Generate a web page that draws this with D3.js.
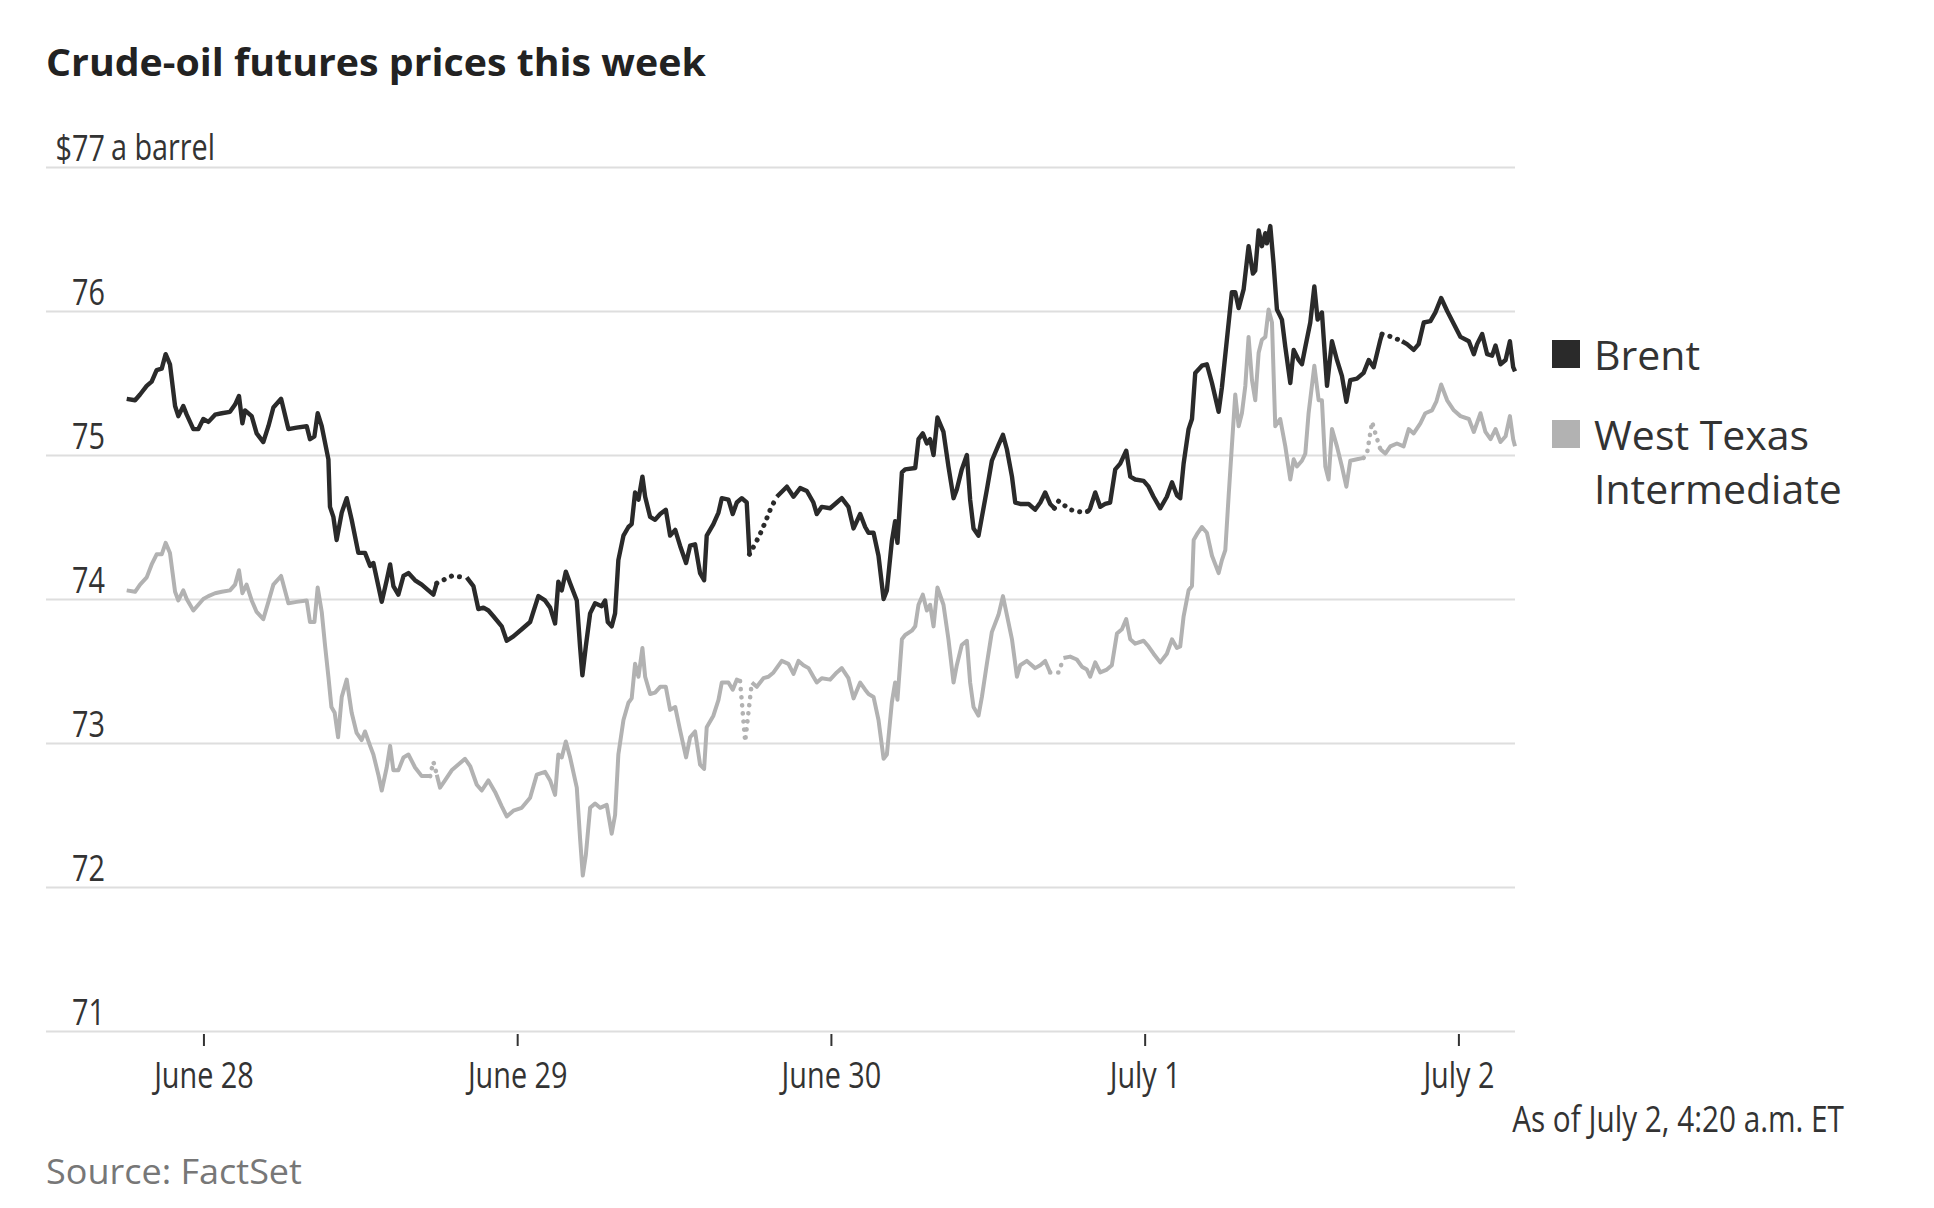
<!DOCTYPE html>
<html><head><meta charset="utf-8">
<script src="https://cdn.jsdelivr.net/npm/d3@7"></script>
<style>body{margin:0;background:#fff} svg{display:block}</style>
</head><body>
<svg id="c" width="1934" height="1208"></svg>
<script>
// ---- DATA ----
// time in hours after June 27, 2021, 6:00 p.m. ET; value in $ a barrel
const startTime = new Date(2021, 5, 27, 18, 0);
const endHours = 106.33; // July 2, 4:20 a.m. ET

const brent = [
[0.13,75.39],[0.77,75.38],[1.15,75.42],[1.66,75.48],[2.04,75.51],[2.42,75.59],[2.81,75.60],[3.11,75.70],[3.44,75.63],[3.83,75.34],[4.08,75.27],[4.46,75.34],[4.72,75.28],[5.23,75.18],[5.61,75.18],[5.99,75.25],[6.38,75.23],[6.89,75.28],[7.40,75.29],[8.03,75.30],[8.42,75.35],[8.72,75.41],[8.98,75.22],[9.18,75.31],[9.69,75.27],[10.07,75.15],[10.58,75.09],[10.97,75.20],[11.35,75.33],[11.94,75.39],[12.50,75.18],[13.13,75.19],[13.90,75.20],[14.15,75.11],[14.49,75.13],[14.74,75.29],[15.05,75.20],[15.56,74.97],[15.68,74.64],[15.94,74.57],[16.19,74.41],[16.58,74.60],[16.96,74.70],[17.34,74.55],[17.85,74.32],[18.36,74.32],[18.75,74.23],[19.00,74.25],[19.38,74.09],[19.64,73.98],[20.02,74.13],[20.28,74.24],[20.53,74.09],[20.91,74.03],[21.30,74.16],[21.68,74.18],[22.19,74.13],[22.70,74.10],[23.21,74.06],[23.59,74.03],[23.85,74.11],
[25.00,74.16],
[26.14,74.15],[26.65,74.09],[27.03,73.93],[27.42,73.94],[27.80,73.92],[28.18,73.88],[28.82,73.81],[29.20,73.71],[29.71,73.74],[30.35,73.79],[30.99,73.84],[31.62,74.02],[32.13,73.99],[32.52,73.94],[32.90,73.83],[33.15,74.12],[33.41,74.06],[33.72,74.19],[34.05,74.11],[34.56,73.99],[34.81,73.67],[34.99,73.47],[35.25,73.67],[35.58,73.90],[35.96,73.97],[36.47,73.95],[36.73,73.99],[36.93,73.84],[37.23,73.81],[37.49,73.90],[37.74,74.27],[38.13,74.44],[38.51,74.50],[38.76,74.52],[39.02,74.74],[39.28,74.69],[39.58,74.85],[39.79,74.71],[40.17,74.57],[40.55,74.55],[40.94,74.59],[41.37,74.62],[41.70,74.44],[42.09,74.48],[42.46,74.37],[42.92,74.25],[43.23,74.37],[43.61,74.38],[43.99,74.18],[44.30,74.13],[44.50,74.44],[45.01,74.52],[45.40,74.60],[45.65,74.70],[46.16,74.69],[46.49,74.59],[46.80,74.67],[47.18,74.70],[47.56,74.67],[47.77,74.31],
[48.53,74.44],[48.96,74.53],[49.40,74.63],
[49.86,74.71],[50.63,74.78],[51.14,74.71],[51.65,74.77],[52.16,74.75],[52.66,74.67],[52.92,74.59],[53.30,74.64],[53.94,74.63],[54.45,74.67],[54.83,74.70],[55.34,74.64],[55.73,74.49],[56.24,74.59],[56.62,74.50],[56.88,74.46],[57.26,74.46],[57.64,74.30],[58.03,74.00],[58.28,74.06],[58.66,74.40],[58.91,74.54],[59.09,74.39],[59.43,74.88],[59.68,74.90],[60.45,74.91],[60.70,75.11],[61.03,75.15],[61.34,75.08],[61.59,75.11],[61.85,75.00],[62.15,75.26],[62.61,75.16],[62.99,74.92],[63.38,74.70],[63.63,74.76],[64.01,74.90],[64.40,75.00],[64.65,74.69],[64.91,74.49],[65.29,74.44],[65.55,74.57],[65.93,74.76],[66.31,74.96],[66.82,75.07],[67.16,75.14],[67.46,75.04],[67.85,74.85],[68.10,74.67],[68.48,74.66],[69.12,74.66],[69.62,74.62],[70.02,74.67],[70.39,74.74],[70.77,74.66],[71.10,74.63],
[71.42,74.68],[72.30,74.62],[73.32,74.60],
[73.70,74.61],[73.83,74.63],[74.22,74.74],[74.60,74.64],[74.98,74.66],[75.36,74.67],[75.75,74.90],[76.13,74.94],[76.59,75.03],[76.90,74.85],[77.28,74.83],[77.92,74.82],[78.30,74.78],[78.68,74.71],[79.19,74.63],[79.70,74.71],[80.09,74.81],[80.47,74.72],[80.72,74.70],[80.98,74.94],[81.36,75.18],[81.62,75.25],[81.87,75.57],[82.38,75.62],[82.76,75.63],[83.15,75.50],[83.66,75.30],[83.91,75.47],[84.29,75.80],[84.67,76.13],[84.93,76.13],[85.19,76.02],[85.57,76.15],[85.95,76.45],[86.28,76.26],[86.46,76.28],[86.72,76.56],[86.97,76.45],[87.23,76.54],[87.35,76.47],[87.61,76.59],[87.86,76.33],[88.12,76.01],[88.50,75.94],[88.76,75.75],[89.14,75.50],[89.40,75.73],[89.78,75.66],[90.03,75.63],[90.29,75.75],[90.67,75.92],[90.98,76.17],[91.23,75.94],[91.56,75.99],[91.95,75.48],[92.33,75.79],[92.71,75.66],[93.09,75.55],[93.43,75.37],[93.73,75.52],[94.24,75.53],[94.75,75.57],[95.14,75.66],[95.52,75.61],[96.03,75.80],[96.16,75.84],
[96.92,75.82],
[97.69,75.79],[98.07,75.77],[98.58,75.73],[98.96,75.77],[99.35,75.92],[99.86,75.93],[100.24,75.99],[100.68,76.09],[101.14,76.00],[101.65,75.91],[102.16,75.82],[102.80,75.79],[103.18,75.70],[103.43,75.77],[103.82,75.84],[104.20,75.70],[104.58,75.69],[104.84,75.76],[105.22,75.63],[105.61,75.66],[105.94,75.79],[106.19,75.61],[106.33,75.58]
];

const wti = [
[0.13,74.06],[0.77,74.05],[1.15,74.10],[1.66,74.15],[2.04,74.24],[2.42,74.31],[2.81,74.31],[3.11,74.39],[3.44,74.32],[3.83,74.05],[4.08,73.99],[4.46,74.06],[4.72,74.00],[5.23,73.92],[5.61,73.96],[5.99,74.00],[6.38,74.02],[6.89,74.04],[7.40,74.05],[8.03,74.06],[8.42,74.10],[8.72,74.20],[8.98,74.04],[9.30,74.10],[9.69,73.99],[10.07,73.91],[10.58,73.86],[10.97,73.98],[11.35,74.10],[11.94,74.16],[12.50,73.97],[13.13,73.98],[13.90,73.99],[14.15,73.84],[14.49,73.84],[14.74,74.08],[15.05,73.91],[15.30,73.68],[15.56,73.46],[15.79,73.25],[16.04,73.21],[16.30,73.04],[16.58,73.32],[16.96,73.44],[17.34,73.21],[17.72,73.07],[18.10,73.02],[18.36,73.08],[18.75,72.98],[19.00,72.92],[19.38,72.78],[19.64,72.67],[20.02,72.83],[20.28,72.98],[20.53,72.81],[20.91,72.81],[21.30,72.90],[21.68,72.92],[22.19,72.83],[22.70,72.77],[23.34,72.77],
[23.59,72.87],
[23.85,72.78],[24.10,72.69],[24.48,72.74],[24.99,72.81],[25.50,72.85],[26.01,72.89],[26.40,72.84],[26.91,72.71],[27.29,72.67],[27.80,72.74],[28.31,72.66],[28.82,72.56],[29.20,72.49],[29.71,72.53],[30.35,72.55],[30.99,72.62],[31.50,72.78],[32.13,72.80],[32.52,72.74],[32.90,72.64],[33.15,72.92],[33.41,72.90],[33.72,73.01],[34.05,72.90],[34.56,72.69],[34.81,72.34],[35.02,72.08],[35.25,72.22],[35.58,72.55],[35.96,72.58],
[36.34,72.55],[36.85,72.57],[37.23,72.37],[37.49,72.50],[37.74,72.92],[38.13,73.16],[38.51,73.28],[38.76,73.31],[39.02,73.55],[39.28,73.46],[39.58,73.66],[39.79,73.46],[40.17,73.34],[40.55,73.35],[40.94,73.39],[41.37,73.39],[41.70,73.23],[42.09,73.25],[42.46,73.09],[42.92,72.90],[43.23,73.04],[43.61,73.08],[43.99,72.85],[44.30,72.82],[44.50,73.11],[45.01,73.19],[45.40,73.30],[45.65,73.42],[46.16,73.42],[46.49,73.37],[46.80,73.44],[47.05,73.43],
[47.44,73.01],
[47.95,73.42],[48.33,73.39],[48.84,73.45],[49.22,73.46],[49.61,73.49],[50.24,73.57],[50.75,73.55],[51.14,73.48],[51.52,73.57],[51.90,73.54],[52.29,73.52],[52.66,73.46],[52.92,73.42],[53.30,73.45],[53.94,73.44],[54.45,73.49],[54.83,73.52],[55.34,73.45],[55.73,73.31],[56.24,73.42],[56.62,73.37],[56.88,73.34],[57.26,73.32],[57.64,73.16],[58.03,72.89],[58.28,72.92],[58.66,73.28],[58.91,73.42],[59.09,73.30],[59.43,73.72],[59.68,73.75],[60.19,73.78],[60.45,73.81],[60.70,73.96],[61.03,74.03],[61.34,73.92],[61.59,73.96],[61.85,73.81],[62.15,74.08],[62.61,73.96],[62.99,73.72],[63.38,73.42],[63.63,73.54],[64.01,73.68],[64.40,73.71],[64.65,73.42],[64.91,73.25],[65.29,73.19],[65.55,73.32],[65.93,73.55],[66.31,73.77],[66.82,73.89],[67.16,74.02],[67.46,73.89],[67.85,73.72],[68.23,73.46],
[68.48,73.54],[68.99,73.57],[69.62,73.52],[70.01,73.54],[70.39,73.57],[70.77,73.49],
[71.42,73.49],
[71.79,73.59],[72.30,73.60],[72.81,73.58],[73.20,73.53],[73.58,73.51],[73.83,73.46],[74.22,73.56],[74.60,73.49],[75.11,73.51],[75.49,73.54],[75.88,73.76],[76.26,73.79],[76.59,73.86],[76.90,73.72],[77.28,73.69],[77.92,73.71],[78.30,73.67],[78.68,73.62],[79.19,73.56],[79.70,73.62],[80.09,73.72],[80.47,73.66],[80.72,73.67],[80.98,73.88],[81.36,74.06],[81.62,74.09],[81.75,74.41],[82.00,74.45],[82.38,74.50],[82.76,74.46],[83.15,74.30],[83.66,74.18],[83.91,74.27],[84.17,74.34],[84.42,74.71],[84.67,75.06],[84.93,75.42],[85.19,75.20],[85.44,75.29],[85.70,75.48],[85.95,75.82],[86.21,75.52],[86.46,75.38],[86.72,75.71],[86.97,75.80],[87.23,75.82],[87.48,76.01],[87.74,75.92],[87.99,75.20],[88.37,75.25],[88.76,75.06],[89.14,74.83],[89.40,74.97],[89.65,74.92],[90.03,74.96],[90.29,75.01],[90.54,75.29],[90.98,75.62],[91.31,75.38],[91.56,75.38],[91.82,74.92],[92.07,74.83],[92.33,75.18],[92.71,75.06],[93.09,74.92],[93.43,74.78],[93.73,74.96],[94.24,74.97],[94.75,74.98],
[95.01,75.01],[95.40,75.23],[95.65,75.15],
[96.03,75.04],[96.41,75.01],[96.79,75.06],[97.30,75.08],[97.81,75.06],[98.20,75.18],[98.58,75.15],[99.09,75.22],[99.47,75.29],[99.98,75.31],[100.31,75.37],[100.68,75.49],[101.14,75.38],[101.65,75.31],[102.16,75.27],[102.80,75.25],[103.18,75.16],[103.69,75.29],[104.07,75.16],[104.46,75.11],[104.84,75.18],[105.22,75.09],[105.61,75.13],[105.94,75.27],[106.19,75.11],[106.33,75.06]
];

// intervals (hours) drawn dotted: no/thin trading
const brentDotted = [[23.85,26.14],[47.77,49.86],[71.10,73.70],[96.16,97.69]];
const wtiDotted = [[23.34,23.85],[47.05,47.95],[70.77,71.79],[94.75,96.03]];

const yTicks = [71, 72, 73, 74, 75, 76, 77];
const xTickDays = [[2021,5,28],[2021,5,29],[2021,5,30],[2021,6,1],[2021,6,2]];
const xTickLabels = ["June 28", "June 29", "June 30", "July 1", "July 2"];
const seriesNames = ["Brent", "West Texas|Intermediate"];

// ---- LAYOUT ----
const svg = d3.select("#c");
const gridLeft = 46, gridRight = 1515;
const plotLeft = 125, plotRight = 1515, plotTop = 167, plotBottom = 1031;
const colBrent = "#2a2a2a", colWti = "#b2b2b2";
const condensed = "'Open Sans', 'Noto Sans', sans-serif";
const cs = 0.8; // horizontal condensation for narrow labels

const toDate = h => new Date(startTime.getTime() + h * 3600e3);
const x = d3.scaleTime().domain([startTime, toDate(endHours)]).range([plotLeft, plotRight]);
const y = d3.scaleLinear().domain([71, 77]).range([plotBottom, plotTop]);

// gridlines + y labels
const yAxis = d3.axisRight(y).tickValues(yTicks).tickSize(gridRight - gridLeft)
  .tickFormat(d => d === 77 ? "$77" : String(d));
const gy = svg.append("g").attr("transform", `translate(${gridLeft},0)`).call(yAxis);
gy.select(".domain").remove();
gy.selectAll(".tick line").attr("stroke", "#dedede").attr("stroke-width", 2);
gy.selectAll(".tick text")
  .attr("x", (105 - gridLeft) / cs).attr("dy", null).attr("y", -7)
  .attr("text-anchor", "end").attr("transform", `scale(${cs},1)`)
  .style("font-family", condensed).style("font-size", "36px").attr("fill", "#333");
svg.append("text").attr("transform", `translate(111,${y(77) - 7}) scale(${cs},1)`)
  .style("font-family", condensed).style("font-size", "36px").attr("fill", "#333")
  .text("a barrel");

// x axis
const xAxis = d3.axisBottom(x)
  .tickValues(xTickDays.map(d => new Date(d[0], d[1], d[2])))
  .tickSize(12).tickFormat((d, i) => xTickLabels[i]);
const gx = svg.append("g").attr("transform", `translate(0,${plotBottom + 3})`).call(xAxis);
gx.select(".domain").remove();
gx.selectAll(".tick line").attr("stroke", "#333").attr("stroke-width", 2);
gx.selectAll(".tick text").attr("y", 54).attr("dy", null)
  .attr("transform", `scale(${cs},1)`)
  .style("font-family", condensed).style("font-size", "36px").attr("fill", "#333");

// lines with dotted stretches
function runs(data, dotted) {
  const out = [];
  for (let i = 0; i < data.length - 1; i++) {
    const mid = (data[i][0] + data[i + 1][0]) / 2;
    const isDot = dotted.some(g => mid > g[0] && mid < g[1]);
    const last = out[out.length - 1];
    if (last && last.dot === isDot) last.pts.push(data[i + 1]);
    else out.push({ dot: isDot, pts: [data[i], data[i + 1]] });
  }
  return out;
}
const line = d3.line().x(d => x(toDate(d[0]))).y(d => y(d[1]));
function drawSeries(data, dotted, color, width) {
  const g = svg.append("g");
  runs(data, dotted).forEach(r => {
    const p = g.append("path").attr("d", line(r.pts)).attr("fill", "none")
      .attr("stroke", color).attr("stroke-linejoin", "round");
    if (r.dot) p.attr("stroke-width", width + 0.6).attr("stroke-dasharray", "0.1 8").attr("stroke-linecap", "round");
    else p.attr("stroke-width", width);
  });
}
drawSeries(wti, wtiDotted, colWti, 4);
drawSeries(brent, brentDotted, colBrent, 4.4);

// legend
const leg = [{ c: colBrent, y: 340 }, { c: colWti, y: 420 }];
leg.forEach((l, i) => {
  svg.append("rect").attr("x", 1552).attr("y", l.y).attr("width", 28).attr("height", 28).attr("fill", l.c);
  const t = svg.append("text").attr("x", 1594).attr("y", l.y + 30)
    .style("font-family", "'Open Sans', sans-serif").style("font-size", "41px").attr("fill", "#333");
  seriesNames[i].split("|").forEach((s, j) => {
    t.append("tspan").attr("x", 1594).attr("dy", j ? 54 : 0).text(s);
  });
});

// title, note, source
function fit(sel, w) {
  const L = sel.node().getComputedTextLength();
  sel.attr("transform", `${sel.attr("data-t")} scale(${w / L},1)`);
}
const title = svg.append("text").attr("data-t", "translate(46,76)")
  .style("font-family", "'Open Sans', sans-serif").style("font-weight", 700).style("font-size", "38px")
  .attr("fill", "#222").text("Crude-oil futures prices this week");
fit(title, 660);
const note = svg.append("text").attr("data-t", "translate(1844,1132)").attr("text-anchor", "end")
  .style("font-family", condensed).style("font-size", "36px").attr("fill", "#333")
  .text("As of July 2, 4:20 a.m. ET");
fit(note, 332);
const src = svg.append("text").attr("data-t", "translate(46,1184)")
  .style("font-family", "'Open Sans', sans-serif").style("font-size", "35px").attr("fill", "#777")
  .text("Source: FactSet");
fit(src, 256);
</script>
</body></html>
